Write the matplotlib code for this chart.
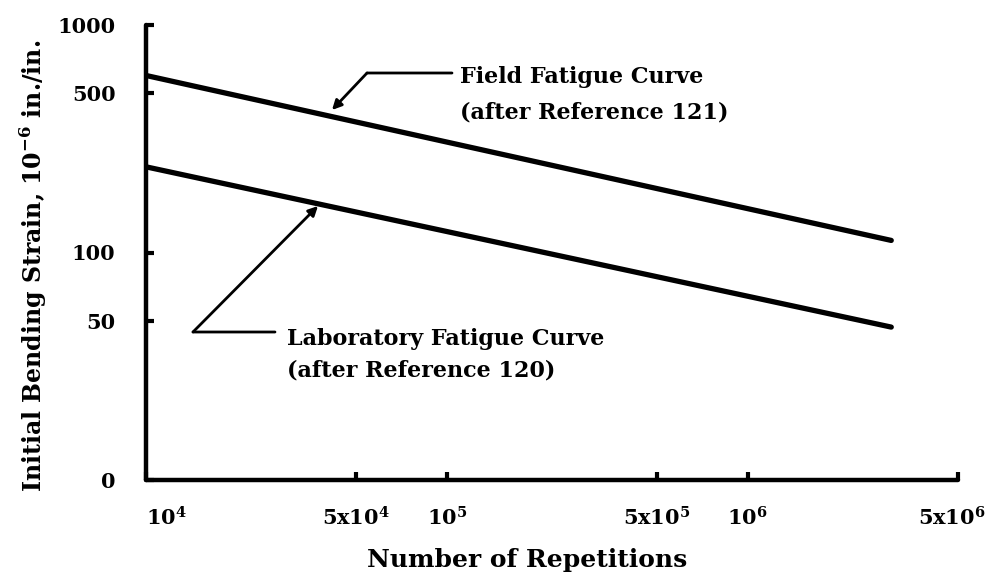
import matplotlib
matplotlib.use("Agg")
import matplotlib.pyplot as plt
import matplotlib.transforms as mtransforms
import numpy as np

# ---- data ----
reps_range = [1.0e4, 3.0e6]          # number of repetitions spanned by each curve
field_strain = [600, 113]            # Field fatigue curve (after Reference 121)
lab_strain = [238, 47]               # Laboratory fatigue curve (after Reference 120)

x_ticks = [1e4, 5e4, 1e5, 5e5, 1e6, 5e6]
x_tick_labels = [r"$\mathbf{10^{4}}$", r"$\mathbf{5x10^{4}}$", r"$\mathbf{10^{5}}$",
                 r"$\mathbf{5x10^{5}}$", r"$\mathbf{10^{6}}$", r"$\mathbf{5x10^{6}}$"]
y_ticks = [10, 50, 100, 500, 1000]
y_tick_labels = ["0", "50", "100", "500", "1000"]

W, H = 989, 588
FONT = "DejaVu Serif"
plt.rcParams['font.family'] = [FONT]
plt.rcParams['mathtext.fontset'] = 'custom'
plt.rcParams['mathtext.rm'] = 'DejaVu Serif'
plt.rcParams['mathtext.bf'] = 'DejaVu Serif:bold'

fig = plt.figure(figsize=(W / 100, H / 100), dpi=100)
ax = fig.add_axes([146 / W, 1 - 480 / H, (958 - 146) / W, (480 - 25) / H])

ax.plot(reps_range, field_strain, color='black', lw=3.8, solid_capstyle='round')
ax.plot(reps_range, lab_strain, color='black', lw=3.8, solid_capstyle='round')

ax.set_xscale('log')
ax.set_yscale('log')
ax.set_xlim(1e4, 5e6)
ax.set_ylim(10, 1000)

ax.minorticks_off()
ax.set_xticks(x_ticks)
ax.set_xticklabels(x_tick_labels)
ax.set_yticks(y_ticks)
ax.set_yticklabels(y_tick_labels)
ax.tick_params(axis='both', direction='in', length=6, width=3)
ax.tick_params(axis='x', pad=19, labelsize=15)
ax.tick_params(axis='y', pad=22, labelsize=15)
for lbl in ax.get_xticklabels() + ax.get_yticklabels():
    lbl.set_fontweight('bold')
xl = ax.get_xticklabels()
xl[0].set_horizontalalignment('left')
xl[-1].set_transform(xl[-1].get_transform() +
                     mtransforms.ScaledTranslation(-6 / 100, 0, fig.dpi_scale_trans))

for s in ['top', 'right']:
    ax.spines[s].set_visible(False)
for s in ['left', 'bottom']:
    ax.spines[s].set_linewidth(3.2)
    ax.spines[s].set_capstyle('round')

def P(x, y):
    return (x, H - y)

seg = dict(arrowstyle='-', lw=2.0, color='black', shrinkA=0, shrinkB=0)
arr = dict(arrowstyle='-|>', lw=2.0, color='black', shrinkA=0, shrinkB=0,
           mutation_scale=14)

TS = 16
# Field annotation
ax.annotate('', xy=P(367, 73), xytext=P(452, 73), xycoords='figure pixels',
            textcoords='figure pixels', arrowprops=seg)
ax.annotate('', xy=P(332, 110), xytext=P(367, 73), xycoords='figure pixels',
            textcoords='figure pixels', arrowprops=arr)
fig.text(460 / W, 1 - 77 / H, "Field Fatigue Curve", ha='left', va='center',
         fontsize=TS, fontweight='bold')
fig.text(460 / W, 1 - 113 / H, "(after Reference 121)", ha='left', va='center',
         fontsize=TS, fontweight='bold')

# Laboratory annotation
ax.annotate('', xy=P(193, 332), xytext=P(275, 332), xycoords='figure pixels',
            textcoords='figure pixels', arrowprops=seg)
ax.annotate('', xy=P(318, 206), xytext=P(193, 332), xycoords='figure pixels',
            textcoords='figure pixels', arrowprops=arr)
fig.text(287 / W, 1 - 339 / H, "Laboratory Fatigue Curve", ha='left', va='center',
         fontsize=TS, fontweight='bold')
fig.text(287 / W, 1 - 371 / H, "(after Reference 120)", ha='left', va='center',
         fontsize=TS, fontweight='bold')

fig.text(33 / W, 1 - 266 / H, r"Initial Bending Strain, 10$^{\mathbf{-6}}$ in./in.",
         rotation=90, ha='center', va='center', fontsize=17, fontweight='bold')
fig.text(527 / W, 1 - 560 / H, "Number of Repetitions", ha='center', va='center',
         fontsize=18, fontweight='bold')

fig.savefig("out.png", dpi=100)
